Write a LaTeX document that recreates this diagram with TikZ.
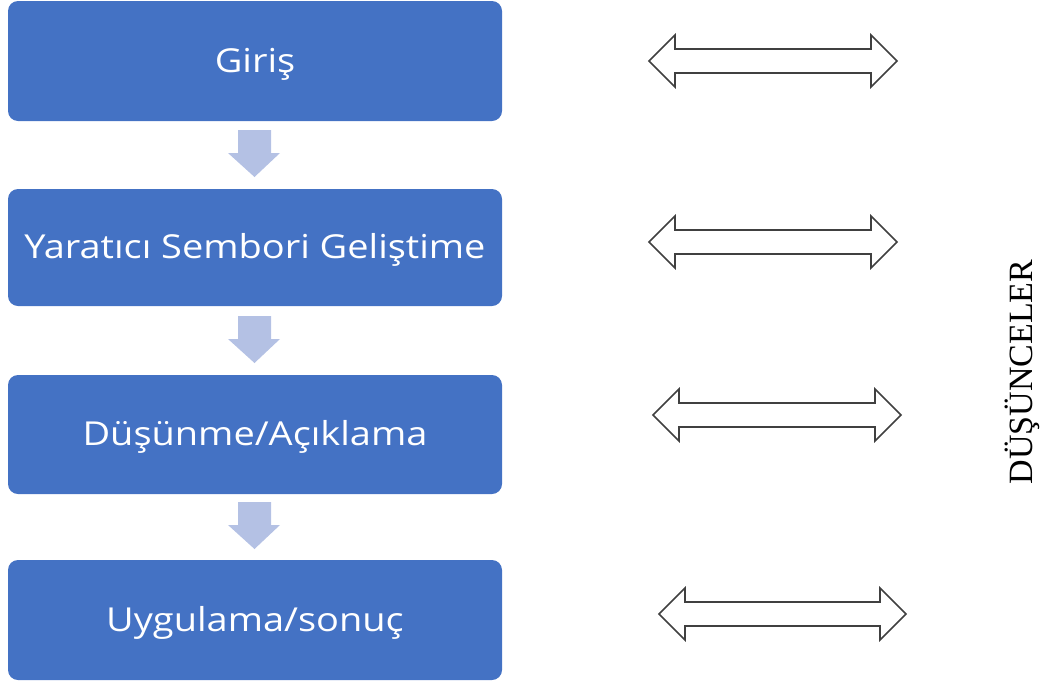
\documentclass[tikz,border=0pt]{standalone}
\usepackage{fontspec}
\setmainfont{Open Sans}[FakeStretch=1.15]
\newfontfamily\serifcap{Liberation Serif}
\definecolor{stepblue}{HTML}{4472C4}
\definecolor{flowblue}{HTML}{B4C1E4}
\definecolor{outlinegrey}{HTML}{404040}
\begin{document}
\begin{tikzpicture}[x=1pt,y=-1pt,
  stagebox/.style={fill=stepblue, rounded corners=10pt, text=white,
    minimum width=494pt, minimum height=120pt, inner sep=0pt,
    text height=26pt, text depth=4pt,
    font=\fontsize{33}{38}\selectfont},
  bothways/.style={draw=outlinegrey, line width=1.6pt, fill=white, line join=miter}
]
\useasboundingbox (0,0) rectangle (1044,686);

% stages of the process
\node[stagebox] (s1) at (255,61) {Giriş};
\node[stagebox, minimum height=117pt] (s2) at (255,247.5) {Yaratıcı Sembori Geliştime};
\node[stagebox, minimum height=119pt] (s3) at (255,434.5) {Düşünme/Açıklama};
\node[stagebox] (s4) at (255,620) {Uygulama/sonuç};

% downward flow arrows between stages
\foreach \y in {130,316,502} {
  \fill[flowblue] (238,\y) -- (271,\y) -- (271,\y+23) -- (280,\y+23)
    -- (254.5,\y+47) -- (228,\y+23) -- (238,\y+23) -- cycle;
}

% two-headed arrows linking each stage with the reflections
\newcommand{\twoway}[3]{%
  \draw[bothways] (#1,#3) -- (#1+26,#3-26) -- (#1+26,#3-12) -- (#2-26,#3-12)
    -- (#2-26,#3-26) -- (#2,#3) -- (#2-26,#3+26) -- (#2-26,#3+12)
    -- (#1+26,#3+12) -- (#1+26,#3+26) -- cycle;}
\twoway{649}{897}{61}
\twoway{649}{897}{242}
\twoway{653}{901}{415}
\twoway{659}{906}{614}

% vertical caption
\node[rotate=90, font=\serifcap\fontsize{34}{38}\selectfont, inner sep=0pt] (cap) at (1022,372) {DÜŞÜNCELER};
\end{tikzpicture}
\end{document}
